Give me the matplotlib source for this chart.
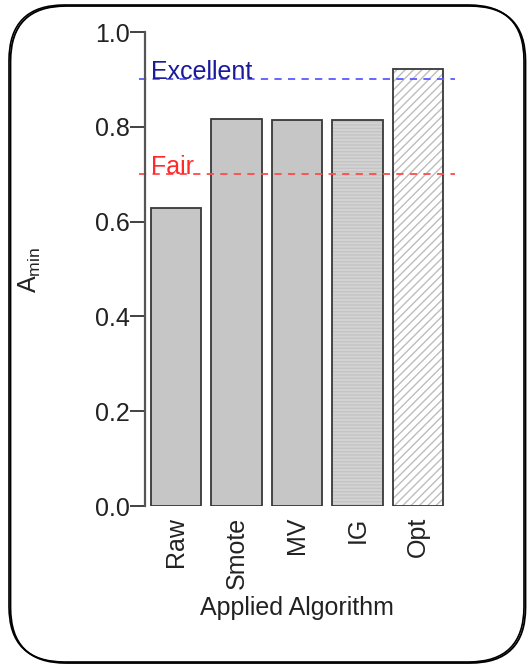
import numpy as np
import matplotlib
matplotlib.use('Agg')
import matplotlib.pyplot as plt
from matplotlib.patches import FancyBboxPatch

plt.rcParams['font.family'] = ['Liberation Sans', 'DejaVu Sans']
plt.rcParams['mathtext.fontset'] = 'custom'
plt.rcParams['mathtext.rm'] = 'Liberation Sans'
plt.rcParams['mathtext.it'] = 'Liberation Sans'

# scores per algorithm
algorithms = ['Raw', 'Smote', 'MV', 'IG', 'Opt']
a_min = [0.628, 0.816, 0.815, 0.815, 0.921]
fills = ['#c6c6c6', '#c6c6c6', '#c6c6c6', '#d3d3d3', 'white']
hatches = [None, None, None, '-----', '////']
hatch_colors = [None, None, None, '#c4c4c4', '#bdbdbd']

thresholds = [0.9, 0.7]
threshold_names = ['Excellent', 'Fair']
line_colors = ['#5a5aff', '#ff4a4a']
text_colors = ['#1a1a9a', '#ff2a2a']

W, H = 528, 667
FS = 18
fig = plt.figure(figsize=(W / 100, H / 100), dpi=100)

# rounded frame around the whole figure, heavier on the lower right
shadow = FancyBboxPatch((10.5 / W, 4 / H), 515 / W, 657 / H,
                        boxstyle='round,pad=0,rounding_size=0.105',
                        transform=fig.transFigure, facecolor='none',
                        edgecolor='black', linewidth=1.3, mutation_aspect=W / H)
frame = FancyBboxPatch((9 / W, 5 / H), 515 / W, 657 / H,
                       boxstyle='round,pad=0,rounding_size=0.105',
                       transform=fig.transFigure, facecolor='none',
                       edgecolor='black', linewidth=1.2, mutation_aspect=W / H)
fig.patches.extend([shadow, frame])

ax = fig.add_axes([139 / W, (H - 506) / H, 316 / W, 474 / H])

# R-style barplot positions: width 1, space 0.2
x = 0.7 + 1.2 * np.arange(len(algorithms))
for xi, v, fc, h, hc in zip(x, a_min, fills, hatches, hatch_colors):
    if h:
        ax.bar(xi, v, width=1.0, color=fc, edgecolor=hc, hatch=h, linewidth=0)
        ax.bar(xi, v, width=1.0, color='none', edgecolor='#383838', linewidth=1.3)
    else:
        ax.bar(xi, v, width=1.0, color=fc, edgecolor='#383838', linewidth=1.3)

for t, name, lc, tc in zip(thresholds, threshold_names, line_colors, text_colors):
    ax.axhline(t, color=lc, linestyle=(0, (4, 3.5)), linewidth=1.3)
    ax.text(0.2, t, name, color=tc, fontsize=FS, ha='left', va='baseline')

ax.set_xlim(-0.032, 6.232)
ax.set_ylim(0, 1)
for s in ['top', 'right', 'bottom']:
    ax.spines[s].set_visible(False)
ax.spines['left'].set_position(('data', 0.095))
ax.spines['left'].set_color('#555555')
ax.spines['left'].set_linewidth(1.6)

ax.set_yticks([0, 0.2, 0.4, 0.6, 0.8, 1.0])
ax.set_yticklabels(['0.0', '0.2', '0.4', '0.6', '0.8', '1.0'])
ax.tick_params(axis='y', length=10.5, width=1.3, color='#333333', pad=1,
               labelsize=FS, labelcolor='#222222')
ax.set_xticks(x)
ax.set_xticklabels(algorithms, rotation=90, va='top', ha='center')
ax.tick_params(axis='x', length=0, pad=8, labelsize=FS, labelcolor='#222222')

fig.text(297 / W, (H - 608) / H, 'Applied Algorithm', fontsize=FS,
         ha='center', va='center', color='#222222')
fig.text(30 / W, (H - 270) / H, r'$\mathregular{A_{min}}$', fontsize=FS,
         rotation=90, ha='center', va='center', color='#222222')

fig.savefig('out.png', dpi=100)
